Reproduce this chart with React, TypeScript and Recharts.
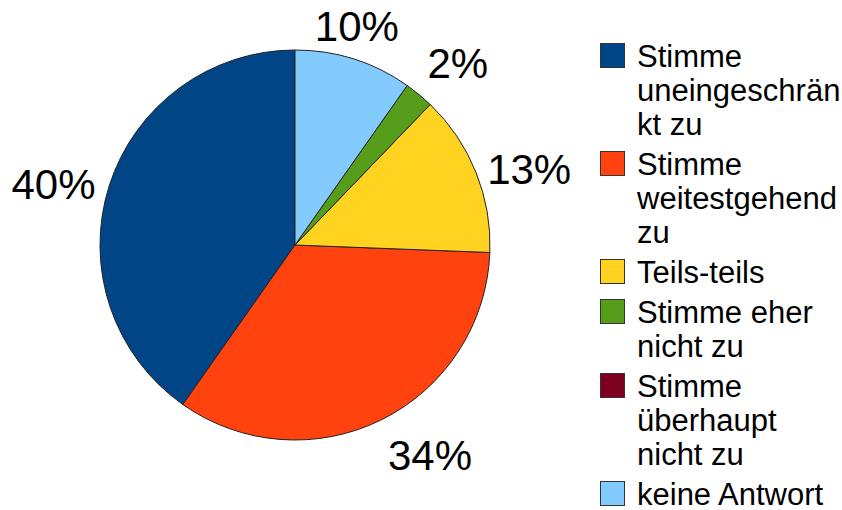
import { PieChart, Pie, Cell, Legend } from 'recharts'

// answers, in legend order
const categories = [
  'Stimme uneingeschränkt zu',
  'Stimme weitestgehend zu',
  'Teils-teils',
  'Stimme eher nicht zu',
  'Stimme überhaupt nicht zu',
  'keine Antwort',
]
const counts = [33, 28, 11, 2, 0, 8]
const colors = ['#004586', '#ff420e', '#ffd320', '#579d1c', '#7e0021', '#83caff']
// legend text is broken into lines exactly like the original
const legendLines = [
  ['Stimme', 'uneingeschrän', 'kt zu'],
  ['Stimme', 'weitestgehend', 'zu'],
  ['Teils-teils'],
  ['Stimme eher', 'nicht zu'],
  ['Stimme', 'überhaupt', 'nicht zu'],
  ['keine Antwort'],
]

const data = categories.map((name, i) => ({ name, value: counts[i] }))

const FONT = '"Liberation Sans", Arial, sans-serif'
const RAD = Math.PI / 180

const renderLabel = (props: any) => {
  const { cx, cy, midAngle, outerRadius, percent, value } = props
  if (!value) return null
  const r = outerRadius + 10
  const dx = Math.cos(-midAngle * RAD)
  const dy = Math.sin(-midAngle * RAD)
  const px = cx + r * dx
  const py = cy + r * dy
  let anchor: 'start' | 'middle' | 'end' = 'middle'
  let x = px
  if (dx > 0.4) {
    anchor = 'start'
    x = px + 2
  } else if (dx < -0.4) {
    anchor = 'end'
    x = px - 4
  }
  let y = py + 15.5
  if (dy < -0.5) y = py - 9
  else if (dy > 0.5) y = py + 41
  return (
    <text x={x} y={y} textAnchor={anchor} fill="#000" fontSize={42} fontFamily={FONT}>
      {`${Math.round(percent * 100)}%`}
    </text>
  )
}

const LINE_H = 34
const ITEM_GAP = 6

const renderLegend = () => {
  let top = 39.5
  return (
    <div style={{ position: 'relative', width: 842, height: 510, fontFamily: FONT }}>
      {legendLines.map((lines, i) => {
        const t = top
        top += lines.length * LINE_H + ITEM_GAP
        return (
          <div key={categories[i]} style={{ position: 'absolute', left: 600, top: t }}>
            <div
              style={{
                position: 'absolute',
                left: 0,
                top: 27.8 - 24,
                width: 23,
                height: 23,
                background: colors[i],
                border: '1px solid #333',
              }}
            />
            <div
              style={{
                position: 'absolute',
                left: 37,
                top: 0,
                fontSize: 31,
                lineHeight: `${LINE_H}px`,
                whiteSpace: 'nowrap',
                color: '#000',
              }}
            >
              {lines.map((l) => (
                <div key={l}>{l}</div>
              ))}
            </div>
          </div>
        )
      })}
    </div>
  )
}

export default function App() {
  return (
    <div style={{ position: 'absolute', left: 0, top: 0, width: 842, height: 510, background: '#fff' }}>
      <PieChart width={842} height={510} margin={{ top: 0, right: 0, bottom: 0, left: 0 }}>
        <Pie
          data={data}
          dataKey="value"
          nameKey="name"
          cx={295}
          cy={245}
          outerRadius={195}
          startAngle={90}
          endAngle={450}
          stroke="#222"
          strokeWidth={1}
          label={renderLabel}
          labelLine={false}
          isAnimationActive={false}
        >
          {data.map((d, i) => (
            <Cell key={d.name} fill={colors[i]} />
          ))}
        </Pie>
        <Legend
          content={renderLegend}
          wrapperStyle={{ left: 0, top: 0, width: 842, height: 510, pointerEvents: 'none' }}
        />
      </PieChart>
    </div>
  )
}
